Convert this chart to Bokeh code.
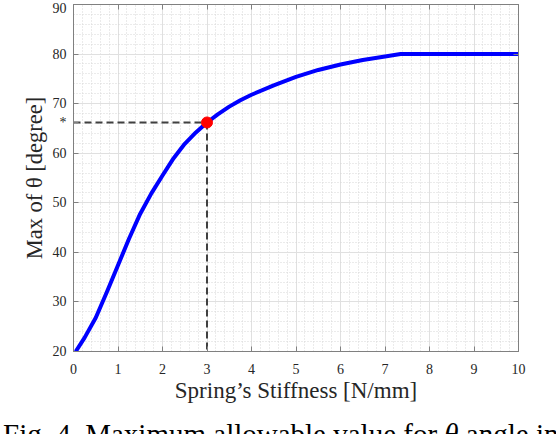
from bokeh.plotting import figure
from bokeh.models import (LinearAxis, SingleIntervalTicker, FixedTicker, Range1d,
                          ColumnDataSource, Div)
from bokeh.layouts import column
from bokeh.embed import file_html
from bokeh.resources import INLINE

# ---- data ----
stiffness = [0.05, 0.25, 0.5, 0.75, 1.0, 1.25, 1.5, 1.75, 2.0, 2.25, 2.5, 2.75,
             3.0, 3.25, 3.5, 3.75, 4.0, 4.5, 5.0, 5.5, 6.0, 6.5, 7.0, 7.35, 10.0]
theta_max = [20.0, 22.8, 26.8, 32.0, 37.4, 42.8, 47.8, 51.9, 55.5, 59.0, 61.9, 64.2,
             66.2, 67.9, 69.4, 70.7, 71.8, 73.7, 75.4, 76.8, 77.9, 78.8, 79.5, 80.0, 80.0]
chosen_k = [3.0]
chosen_theta = [66.2]
x_limits = [0, 10]
y_limits = [20, 90]
y_tick_values = [20, 30, 40, 50, 60, 66.2, 70, 80, 90]
y_tick_overrides = {66.2: "*"}
x_label = "Spring\u2019s Stiffness [N/mm]"
y_label = "Max of \u03b8 [degree]"
caption_html = "Fig. 4. Maximum allowable value for <i>\u03b8</i> angle in"

SERIF = "Liberation Serif"
AX_COL = "#808080"
TXT_COL = "#262626"

W, H = 556, 420
L, R, T = 73, 38, 4
B = H - 351

p = figure(width=W, height=H, output_backend="svg", toolbar_location=None, title=None,
           x_range=Range1d(*x_limits), y_range=Range1d(*y_limits),
           min_border_left=L, min_border_right=R, min_border_top=T, min_border_bottom=B,
           background_fill_color="white", border_fill_color="white")
p.outline_line_color = AX_COL
p.outline_line_width = 1

xt = SingleIntervalTicker(interval=1, num_minor_ticks=5)
yt = SingleIntervalTicker(interval=10, num_minor_ticks=5)
p.xaxis.ticker = xt
p.yaxis.ticker = FixedTicker(ticks=y_tick_values)
p.yaxis.major_label_overrides = y_tick_overrides
p.xgrid.ticker = xt
p.ygrid.ticker = yt

for g in (p.xgrid, p.ygrid):
    g.grid_line_color = "#e0e0e0"
    g.grid_line_width = 1
    g.minor_grid_line_color = "#d6d6d6"
    g.minor_grid_line_dash = "1 2"
    g.minor_grid_line_width = 1

for ax in (p.xaxis, p.yaxis):
    ax.axis_line_color = AX_COL
    ax.major_tick_line_color = AX_COL
    ax.major_tick_in = 5
    ax.major_tick_out = 0
    ax.minor_tick_line_color = None
    ax.major_label_text_font = SERIF
    ax.major_label_text_font_size = "14px"
    ax.major_label_text_color = TXT_COL
    ax.axis_label_text_font = SERIF
    ax.axis_label_text_font_style = "normal"
    ax.axis_label_text_color = TXT_COL

p.xaxis.major_label_standoff = 8
p.yaxis.major_label_standoff = 7
p.xaxis.axis_label = x_label
p.xaxis.axis_label_text_font_size = "23px"
p.xaxis.axis_label_standoff = 1
p.yaxis.axis_label = y_label
p.yaxis.axis_label_text_font_size = "22.5px"
p.yaxis.axis_label_standoff = 3

top = LinearAxis(ticker=xt, major_tick_in=5, major_tick_out=0, minor_tick_line_color=None,
                 axis_line_color=AX_COL, major_tick_line_color=AX_COL,
                 major_label_text_font_size="1px", major_label_text_color=None,
                 major_label_standoff=-6)
right = LinearAxis(ticker=yt, major_tick_in=5, major_tick_out=0, minor_tick_line_color=None,
                   axis_line_color=AX_COL, major_tick_line_color=AX_COL,
                   major_label_text_font_size="1px", major_label_text_color=None,
                   major_label_standoff=0)
p.add_layout(top, "above")
p.add_layout(right, "right")

# dashed guide lines to the chosen point
p.line(x=[x_limits[0], chosen_k[0]], y=[chosen_theta[0], chosen_theta[0]],
       line_color="#404040", line_width=2, line_dash="7 4")
p.line(x=[chosen_k[0], chosen_k[0]], y=[chosen_theta[0], y_limits[0]],
       line_color="#404040", line_width=2, line_dash="7 4")

src = ColumnDataSource(data=dict(k=stiffness, th=theta_max))
p.line("k", "th", source=src, line_color="#0000ff", line_width=4, line_join="round")
p.scatter(x=chosen_k, y=chosen_theta, size=11, fill_color="#ff0000", line_color="#ff0000")

# caption, cut off at the bottom of the window like the reference
cap = Div(text=f'<div style="font-family:\'{SERIF}\';font-size:29px;line-height:29px;'
               f'white-space:nowrap;margin-top:0px;padding-left:3px;color:#000">'
               f'{caption_html}</div>',
          width=W, height=14, margin=0, styles={"overflow": "hidden"})

layout = column(p, cap, spacing=0)
open("out.html", "w").write(file_html(layout, INLINE))
